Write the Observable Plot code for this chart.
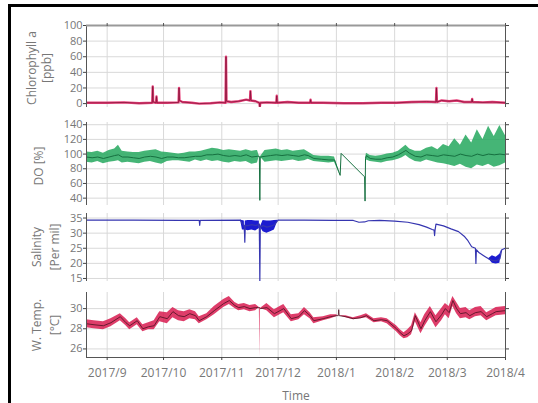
<!DOCTYPE html>
<html><head><meta charset="utf-8">
<script src="https://cdn.jsdelivr.net/npm/d3@7"></script>
<script src="https://cdn.jsdelivr.net/npm/@observablehq/plot@0.6"></script>
<style>
body{margin:0;background:#fff;}
#wrap{position:relative;width:538px;height:403px;overflow:hidden;background:#fff;font-family:"Open Sans",Lato,sans-serif;}
#frame{position:absolute;left:8px;top:4px;width:700px;height:600px;border-top:3px solid #000;border-left:3px solid #000;}
.layer{position:absolute;left:0;top:0;}
.yl{position:absolute;transform:translate(-50%,-50%) rotate(-90deg);text-align:center;white-space:nowrap;font-size:12px;color:#777;}
#xl{position:absolute;left:296px;top:395px;transform:translate(-50%,-50%);font-size:12px;color:#777;}
</style></head>
<body><div id="wrap"><div id="frame"></div></div>
<script>
// ---------- data ----------
const monthTicks = ["2017-09-01","2017-10-01","2017-11-01","2017-12-01","2018-01-01","2018-02-01","2018-03-01","2018-04-01"];

const chlTicks = [0,20,40,60,80,100];
const chlTime = ["2017-08-21","2017-09-01","2017-09-10","2017-09-18","2017-09-25 00","2017-09-25 06","2017-09-25 12","2017-09-27 00","2017-09-27 06","2017-09-27 12","2017-10-03","2017-10-09 00","2017-10-09 06","2017-10-09 12","2017-10-11","2017-10-16","2017-10-20","2017-10-26","2017-10-31","2017-11-03 00","2017-11-03 06","2017-11-03 12","2017-11-06","2017-11-10","2017-11-14","2017-11-16 00","2017-11-16 06","2017-11-16 12","2017-11-19","2017-11-21 00","2017-11-21 06","2017-11-21 12","2017-11-25","2017-11-30 00","2017-11-30 06","2017-11-30 12","2017-12-06","2017-12-12","2017-12-18 00","2017-12-18 06","2017-12-18 12","2017-12-25","2018-01-05","2018-01-15","2018-01-25","2018-02-02","2018-02-10","2018-02-18","2018-02-23 00","2018-02-23 06","2018-02-23 12","2018-02-26","2018-03-02","2018-03-06","2018-03-10","2018-03-14 00","2018-03-14 06","2018-03-14 12","2018-03-20","2018-03-25","2018-04-01"];
const chlValue = [1,1,1.5,0.5,1,22,2,1,9,1,1,1.5,20,4,2,1,0,0.5,1.5,1,60,3,2,3,5,4,16,4,3,1,-4,1,1.5,1,10,1,2,1,1,5,1,1,0.5,0.5,1,1,2,2.5,2,20,2,4,3,4,2,2,6,2,1.5,2,1];

const doTicks = [40,60,80,100,120,140];
const doTime = ["2017-08-21","2017-08-24","2017-08-27","2017-08-30","2017-09-02","2017-09-05","2017-09-07","2017-09-09","2017-09-12","2017-09-15","2017-09-18","2017-09-21","2017-09-24","2017-09-27","2017-09-30","2017-10-03","2017-10-06","2017-10-09","2017-10-12","2017-10-15","2017-10-18","2017-10-21","2017-10-24","2017-10-27","2017-10-30","2017-11-02","2017-11-05","2017-11-08","2017-11-11","2017-11-14","2017-11-17","2017-11-20","2017-11-21 00","2017-11-21 06","2017-11-21 12","2017-11-24","2017-11-27","2017-11-30","2017-12-03","2017-12-06","2017-12-09","2017-12-12","2017-12-15","2017-12-17","2017-12-20","2017-12-24","2017-12-28","2017-12-31","2018-01-03 00","2018-01-03 12","2018-01-16 00","2018-01-16 06","2018-01-16 12","2018-01-17","2018-01-19","2018-01-22","2018-01-25","2018-01-28","2018-01-31","2018-02-03","2018-02-05","2018-02-07","2018-02-09","2018-02-12","2018-02-15","2018-02-18","2018-02-21","2018-02-24","2018-02-27","2018-03-02","2018-03-05","2018-03-08","2018-03-11","2018-03-14","2018-03-17","2018-03-20","2018-03-23","2018-03-26","2018-03-29","2018-04-01"];
const doMid = [96,95,96,94,96,98,99,96,96,95,94,96,97,96,94,96,96,95,95,96,97,97,99,99,100,98,97,98,97,99,96,97,97,37,96,97,98,99,98,99,98,97,99,98,94,93,92,92,71,101,69,36,94,98,94,93,93,95,96,99,102,105,101,97,96,99,98,97,99,98,97,100,98,97,100,98,100,99,100,99];
const doLo = [89,88,90,87,89,90,91,88,89,88,87,89,90,88,86,90,91,91,90,89,92,90,92,90,91,89,88,90,89,90,86,88,97,37,96,89,90,91,90,91,92,90,91,93,90,89,88,89,71,101,69,36,94,92,90,89,88,90,91,93,95,98,94,90,89,92,90,88,87,85,83,86,82,80,85,83,86,82,84,88];
const doHi = [103,102,104,101,105,107,112,104,103,102,102,104,105,106,103,102,101,100,101,103,103,104,106,108,107,105,106,105,104,106,104,105,97,37,96,105,106,107,105,106,104,105,106,103,98,97,97,96,71,101,69,36,94,101,98,97,98,100,101,104,108,112,107,104,104,108,110,106,113,110,121,112,126,115,133,120,138,124,139,125];

const salTicks = [15,20,25,30,35];
const salTime = ["2017-08-21","2017-09-15","2017-10-10","2017-10-20 00","2017-10-20 06","2017-10-20 12","2017-11-11","2017-11-12","2017-11-13 00","2017-11-13 06","2017-11-13 12","2017-11-15","2017-11-17","2017-11-19","2017-11-21 00","2017-11-21 06","2017-11-21 12","2017-11-23","2017-11-25","2017-11-27","2017-11-29","2017-12-01","2017-12-15","2017-12-31","2018-01-10","2018-01-13","2018-01-16","2018-01-18","2018-01-24","2018-02-01","2018-02-08","2018-02-14","2018-02-18","2018-02-21","2018-02-22 00","2018-02-22 06","2018-02-22 12","2018-02-23","2018-02-27","2018-03-03","2018-03-07","2018-03-10","2018-03-12","2018-03-14","2018-03-16 00","2018-03-16 06","2018-03-16 12","2018-03-18","2018-03-21","2018-03-23","2018-03-25","2018-03-27","2018-03-29","2018-03-30","2018-04-01"];
const salMid = [34.3,34.3,34.2,34.2,32.6,34.2,34.3,33,32.5,27,32.5,32.5,32.8,32.5,33,14,32,32.5,32,32.3,32.8,34.3,34.3,34.2,34.2,33.6,33.7,34.1,34.2,34.0,33.6,32.8,32.0,31.2,31.0,29.2,31.0,33.0,32.4,31.4,30.5,29.0,27.5,25.5,25.0,20.0,24.5,23.5,22.3,21.5,21,20.8,21.5,24.5,25];
const salLo = [34.3,34.3,34.2,34.2,32.6,34.2,34.3,31,31,27,31,30.8,31,30.7,31.5,14,32,30.5,30,30.5,31,34.3,34.3,34.2,34.2,33.6,33.7,34.1,34.2,34.0,33.6,32.8,32.0,31.2,31.0,29.2,31.0,33.0,32.4,31.4,30.5,29.0,27.5,25.5,25.0,20.0,24.5,23.5,22.3,21.5,20,19.8,20,24.5,25];
const salHi = [34.3,34.3,34.2,34.2,32.6,34.2,34.3,34.2,34,27,34,34.2,34.2,34,34,14,32,34.2,34,34,34.2,34.3,34.3,34.2,34.2,33.6,33.7,34.1,34.2,34.0,33.6,32.8,32.0,31.2,31.0,29.2,31.0,33.0,32.4,31.4,30.5,29.0,27.5,25.5,25.0,20.0,24.5,23.5,22.3,21.5,22.5,22,23,24.5,25];

const tmpTicks = [26,28,30];
const tmpTime = ["2017-08-21","2017-08-25","2017-08-30","2017-09-03","2017-09-08","2017-09-11","2017-09-13","2017-09-17","2017-09-20","2017-09-23","2017-09-26","2017-09-29","2017-10-03","2017-10-06","2017-10-09","2017-10-12","2017-10-15","2017-10-18","2017-10-20","2017-10-24","2017-10-28","2017-11-02","2017-11-05","2017-11-08","2017-11-10","2017-11-13","2017-11-16","2017-11-19","2017-11-21 00","2017-11-21 06","2017-11-21 12","2017-11-25","2017-11-29","2017-12-02","2017-12-04","2017-12-08","2017-12-12","2017-12-15","2017-12-18","2017-12-20","2017-12-25","2017-12-29","2018-01-01","2018-01-02 00","2018-01-02 06","2018-01-02 12","2018-01-06","2018-01-10","2018-01-14","2018-01-17","2018-01-21","2018-01-25","2018-01-28","2018-02-02","2018-02-04","2018-02-06","2018-02-08","2018-02-10","2018-02-12","2018-02-15","2018-02-17","2018-02-20","2018-02-23","2018-02-26","2018-02-28","2018-03-02","2018-03-04","2018-03-06","2018-03-08","2018-03-11","2018-03-13","2018-03-16","2018-03-19","2018-03-22","2018-03-25","2018-03-27","2018-04-01"];
const tmpMid = [28.5,28.4,28.3,28.6,29.2,28.6,28.3,28.8,28.0,28.2,28.3,29.2,29.0,29.7,29.3,29.2,29.5,29.3,28.8,29.2,29.8,30.5,30.8,30.3,30.1,30.2,30.0,30.1,30.1,null,30.0,30.1,29.5,29.8,30.0,29.0,29.2,29.8,29.3,28.8,29.0,29.2,29.3,29.3,29.9,29.3,29.2,29.0,29.1,29.3,28.8,28.9,28.8,28.0,27.6,27.3,27.5,27.8,29.3,28.0,28.8,29.7,28.7,29.4,30.0,29.6,30.8,30.0,29.5,29.6,29.3,29.6,29.7,29.2,29.5,29.7,29.8];
const tmpLo = [28.1,28.0,27.9,28.2,28.8,28.3,27.9,28.4,27.7,27.9,27.9,28.7,28.5,29.1,28.8,28.7,29.0,28.9,28.5,28.9,29.4,30.1,30.4,30.0,29.8,29.9,29.7,29.8,30.1,25.2,30.0,29.8,29.1,29.4,29.6,28.7,28.9,29.4,29.0,28.5,28.8,29.0,29.2,29.3,29.9,29.3,29.1,28.9,29.0,29.1,28.6,28.7,28.5,27.7,27.3,27.0,27.1,27.4,28.7,27.5,28.2,29.1,28.1,28.8,29.4,29.0,30.2,29.5,29.0,29.1,28.9,29.2,29.3,28.8,29.1,29.3,29.4];
const tmpHi = [28.9,28.8,28.7,29.0,29.5,29.0,28.6,29.1,28.4,28.6,28.8,29.7,29.6,30.1,29.8,29.7,29.9,29.7,29.2,29.5,30.2,30.9,31.2,30.6,30.4,30.5,30.3,30.4,30.1,30.1,30.0,30.5,29.9,30.2,30.4,29.4,29.5,30.1,29.6,29.1,29.2,29.4,29.4,29.3,29.9,29.3,29.3,29.1,29.3,29.5,29.0,29.1,29.0,28.3,27.9,27.6,27.9,28.3,29.6,28.6,29.4,30.2,29.3,30.0,30.5,30.2,31.2,30.6,30.0,30.1,29.8,30.1,30.2,29.6,29.9,30.1,30.2];

// ---------- build ----------
const pD = d3.utcParse("%Y-%m-%d"), pH = d3.utcParse("%Y-%m-%d %H");
const P = s => s.length > 10 ? pH(s) : pD(s);
const rows = (t, cols) => t.map((s, i) => {
  const r = {t: P(s)};
  for (const k in cols) r[k] = cols[k][i];
  return r;
});
const months = monthTicks.map(P);
const X0 = P("2017-08-21"), X1 = P("2018-04-01");
const W = 538, H = 403, ML = 86, MR = 33;
const FONT = '"Open Sans", Lato, sans-serif';

function panel({top, bottom, domain, ticks, marks, xaxis = false, topFrame = false}) {
  const m = [
    Plot.ruleX(months, {stroke: "#d9d9d9", strokeWidth: 1}),
    Plot.ruleY(ticks, {stroke: "#d9d9d9", strokeWidth: 1}),
    ...marks,
    Plot.ruleX([X0, X1], {stroke: "#555", strokeWidth: 1}),
    Plot.axisY({anchor: "left", ticks, tickSize: 3, tickPadding: 1, tickFormat: d => String(d), label: null, stroke: "#444", fill: "#777", fontSize: 11}),
    Plot.axisY({anchor: "right", ticks, tickSize: 3, tickFormat: () => "", label: null, stroke: "#444"})
  ];
  if (topFrame) {
    m.push(Plot.ruleY([domain[1]], {stroke: "#999", strokeWidth: 2}));
    m.push(Plot.axisX({anchor: "top", ticks: months, tickSize: 3, tickFormat: () => "", label: null, stroke: "#555"}));
  }
  if (xaxis) {
    m.push(Plot.ruleY([domain[0]], {stroke: "#555", strokeWidth: 1}));
    m.push(Plot.axisX({anchor: "bottom", ticks: months, tickSize: 3, tickPadding: 8, tickFormat: d3.utcFormat("%Y/%-m"), label: null, stroke: "#444", fill: "#777"}));
  }
  const svg = Plot.plot({
    width: W, height: H, marginLeft: ML, marginRight: MR, marginTop: top, marginBottom: H - bottom,
    style: {background: "transparent", fontFamily: FONT, fontSize: "12px", color: "#777", overflow: "visible"},
    x: {type: "utc", domain: [X0, X1], axis: null},
    y: {domain, axis: null},
    marks: m
  });
  svg.setAttribute("class", "layer");
  return svg;
}

const wrap = document.getElementById("wrap");

const chl = rows(chlTime, {v: chlValue});
wrap.appendChild(panel({top: 25, bottom: 107, domain: [-5, 100], ticks: chlTicks, topFrame: true, marks: [
  Plot.lineY(chl, {x: "t", y: "v", stroke: "#e8407a", strokeWidth: 2.4, clip: true}),
  Plot.lineY(chl, {x: "t", y: "v", stroke: "#7a1030", strokeWidth: 0.7, clip: true})
]}));

const dO = rows(doTime, {lo: doLo, mid: doMid, hi: doHi});
wrap.appendChild(panel({top: 122, bottom: 205, domain: [30, 143], ticks: doTicks, marks: [
  Plot.areaY(dO, {x: "t", y1: "lo", y2: "hi", fill: "#24a85e", fillOpacity: 0.85, clip: true}),
  Plot.lineY(dO, {x: "t", y: "mid", stroke: "#167040", strokeWidth: 1, clip: true})
]}));

const sal = rows(salTime, {lo: salLo, mid: salMid, hi: salHi});
wrap.appendChild(panel({top: 213, bottom: 281, domain: [14, 36.5], ticks: salTicks, marks: [
  Plot.areaY(sal, {x: "t", y1: "lo", y2: "hi", fill: "#1c1cd0", clip: true}),
  Plot.lineY(sal, {x: "t", y: "mid", stroke: "#3535b0", strokeWidth: 1.2, clip: true})
]}));

const tmp = rows(tmpTime, {lo: tmpLo, mid: tmpMid, hi: tmpHi});
wrap.appendChild(panel({top: 292, bottom: 357, domain: [25.15, 31.6], ticks: tmpTicks, xaxis: true, marks: [
  Plot.areaY(tmp, {x: "t", y1: "lo", y2: "hi", fill: "#d81b50", fillOpacity: 0.85, clip: true}),
  Plot.lineY(tmp, {x: "t", y: "mid", stroke: "#4a1020", strokeWidth: 0.8, clip: true})
]}));

const labels = [
  {x: 39, y: 68, lh: 15, html: "Chlorophyll a<br>[ppb]"},
  {x: 38, y: 166, lh: 15, html: "DO [%]"},
  {x: 46, y: 247, lh: 18, html: "Salinity<br>[Per mil]"},
  {x: 46, y: 325, lh: 18, html: "W. Temp.<br>[°C]"}
];
for (const l of labels) {
  const d = document.createElement("div");
  d.className = "yl";
  d.style.left = l.x + "px"; d.style.top = l.y + "px"; d.style.lineHeight = l.lh + "px";
  d.innerHTML = l.html;
  wrap.appendChild(d);
}
const xl = document.createElement("div");
xl.id = "xl"; xl.textContent = "Time";
wrap.appendChild(xl);
</script>
</body></html>
